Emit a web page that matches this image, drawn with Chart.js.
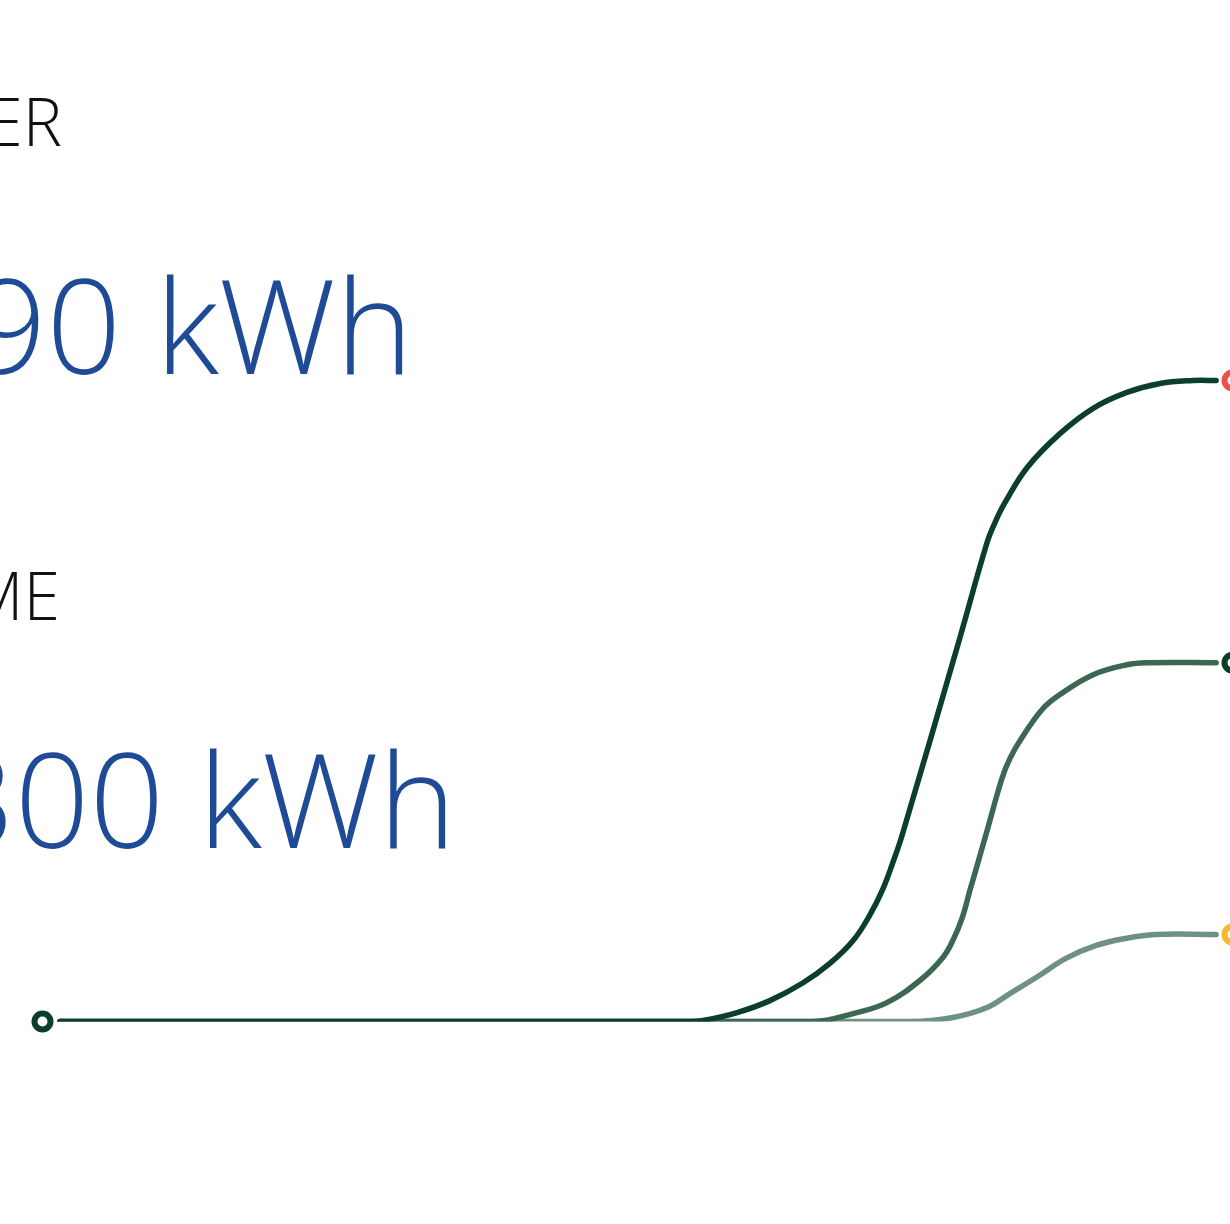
<!DOCTYPE html>
<html>
<head>
<meta charset="utf-8">
<script src="https://cdn.jsdelivr.net/npm/chart.js@4.4.1/dist/chart.umd.min.js"></script>
<style>
  html, body { margin: 0; padding: 0; background: #fff; overflow: hidden; width: 1230px; height: 1224px; }
  .wrap { position: absolute; left: 0; top: 0; width: 1260px; height: 1224px; }
  .lbl { position: absolute; white-space: nowrap; text-align: right; font-family: "Open Sans", sans-serif; font-weight: 300; }
  .small { font-size: 66px; line-height: 66px; color: #111; }
  .big { font-size: 131px; line-height: 131px; color: #1f4b96; }
</style>
</head>
<body>
<div class="lbl small" style="left:-640px; width:702px; top:87px;">SOLAR POWER</div>
<div class="lbl big" style="left:-640px; width:1053px; top:258px;">1,290 kWh</div>
<div class="lbl small" style="left:-640px; width:700px; top:561px;">USED AT HOME</div>
<div class="lbl big" style="left:-640px; width:1096px; top:732px;">1,300 kWh</div>

<div class="wrap"><canvas id="energyChart"></canvas></div>

<script>
// hour of day -> cumulative kWh
const hoursGen = [0.35, 13.06, 13.32, 14.01, 14.67, 15.34, 15.88, 16.35, 16.69, 16.95, 17.15, 17.34, 18.51, 19.05, 19.21, 19.41, 19.86, 20.52, 21.19, 21.87, 22.54, 23.20, 23.67];
const kwhGen   = [0, 0, 2, 18, 42, 78, 117, 163, 215, 267, 320, 376, 775, 964, 1004, 1044, 1115, 1183, 1234, 1266, 1284, 1290, 1290];

const hoursHome = [0.35, 15.54, 16.35, 17.03, 17.70, 18.16, 18.36, 18.55, 18.71, 18.85, 19.05, 19.35, 19.51, 19.72, 20.16, 20.52, 21.19, 21.87, 22.28, 23.67];
const kwhHome   = [0, 0, 16, 38, 83, 129, 163, 209, 266, 314, 384, 489, 529, 566, 628, 658, 698, 718, 722, 722];

const hoursGrid = [0.35, 17.50, 18.36, 19.05, 19.51, 20.08, 20.64, 21.25, 21.83, 22.44, 23.67];
const kwhGrid   = [0, 0, 8, 28, 56, 91, 127, 153, 167, 175, 175];

const startHour = 0;
const endHour = 24;

function pts(xs, ys){
  let out = [];
  for(let i=0; i<xs.length; i++){
    out.push({x: xs[i], y: ys[i]});
  }
  return out;
}

function lineSet(xs, ys, color){
  return {
    data: pts(xs, ys),
    borderColor: color,
    borderWidth: 5.5,
    borderCapStyle: 'round',
    borderJoinStyle: 'round',
    pointRadius: 0,
    tension: 0.4,
    fill: false
  };
}

function markerSet(x, y, color){
  return {
    data: [{x: x, y: y}],
    showLine: false,
    pointRadius: 8,
    pointBorderWidth: 6,
    pointBorderColor: color,
    pointBackgroundColor: '#fff',
    clip: false,
    order: -1
  };
}

const ctx = document.getElementById('energyChart').getContext('2d');

const myChart = new Chart(ctx, {
    type: 'line',
    data: {
        datasets: [
          lineSet(hoursGen, kwhGen, '#0b3f2b'),
          lineSet(hoursHome, kwhHome, '#3c6753'),
          lineSet(hoursGrid, kwhGrid, '#6f9181'),
          markerSet(startHour, 0, '#0b3f2b'),
          markerSet(endHour, kwhGen[kwhGen.length-1], '#e8544a'),
          markerSet(endHour, kwhHome[kwhHome.length-1], '#0b3f2b'),
          markerSet(endHour, kwhGrid[kwhGrid.length-1], '#f5b82a')
        ]
    },
    options: {
        responsive: true,
        maintainAspectRatio: false,
        animation: false,
        layout: { padding: { left: 42.5, right: 27.5, top: 27.7, bottom: 202.5 } },
        plugins: { legend: { display: false }, tooltip: { enabled: false } },
        scales: {
            x: { type: 'linear', min: 0, max: 24, display: false },
            y: { min: 0, max: 2000, display: false }
        }
    }
});
</script>
</body>
</html>
